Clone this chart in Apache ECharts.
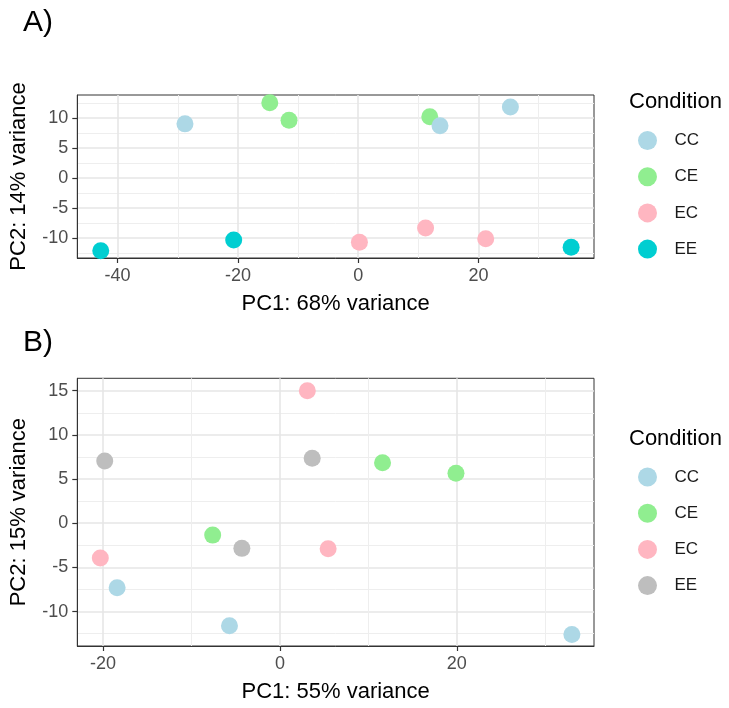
<!DOCTYPE html>
<html>
<head>
<meta charset="UTF-8">
<title>PCA</title>
<script src="https://cdn.jsdelivr.net/npm/echarts@6/dist/echarts.min.js"></script>
<style>
  body { margin: 0; background: #fff; }
  #chartA { width: 729px; height: 320px; }
  #chartB { width: 729px; height: 388px; }
</style>
</head>
<body>
<div id="chartA"></div>
<div id="chartB"></div>
<script>
// conditions, in legend order
const conditions = ['CC', 'CE', 'EC', 'EE'];

// panel A: [PC1, PC2] per sample
const a_CC = [[-28.8, 9.0], [13.6, 8.7], [25.3, 11.8]];
const a_CE = [[-14.7, 12.5], [-11.5, 9.6], [11.9, 10.2]];
const a_EC = [[0.2, -10.7], [11.2, -8.3], [21.2, -10.1]];
const a_EE = [[-42.8, -12.1], [-20.7, -10.3], [35.4, -11.5]];

// panel B
const b_CC = [[-18.4, -7.3], [-5.7, -11.6], [33.0, -12.6]];
const b_CE = [[-7.6, -1.35], [11.6, 6.85], [19.9, 5.65]];
const b_EC = [[3.1, 15.0], [-20.3, -3.95], [5.45, -2.9]];
const b_EE = [[-19.8, 7.05], [3.65, 7.35], [-4.3, -2.85]];

// ticks
const aXTicks = [-40, -20, 0, 20];
const aXMinor = [-30, -10, 10, 30];
const aYTicks = [-10, -5, 0, 5, 10];
const aYMinor = [-12.5, -7.5, -2.5, 2.5, 7.5, 12.5];
const bXTicks = [-20, 0, 20];
const bXMinor = [-10, 10, 30];
const bYTicks = [-10, -5, 0, 5, 10, 15];
const bYMinor = [-12.5, -7.5, -2.5, 2.5, 7.5, 12.5];

const colorsA = ['#ADD8E6', '#90EE90', '#FFB6C1', '#00CED1'];
const colorsB = ['#ADD8E6', '#90EE90', '#FFB6C1', '#BEBEBE'];

const FONT = 'Liberation Sans, Arial, sans-serif';

function axisPair(min, max, ticks, minor, name, gap) {
    const major = {
        type: 'value', min: min, max: max,
        axisLine: { show: true, onZero: false, lineStyle: { color: '#333', width: 1 } },
        axisTick: { show: true, customValues: ticks, length: 5, lineStyle: { color: '#333', width: 1.2 } },
        axisLabel: { customValues: ticks, color: '#4d4d4d', fontSize: 18, fontFamily: FONT, margin: 9 },
        splitLine: { show: true, lineStyle: { color: '#e6e6e6', width: 1.6 } },
        name: name, nameLocation: 'middle', nameGap: gap,
        nameTextStyle: { color: '#000', fontSize: 22, fontFamily: FONT }
    };
    const thin = {
        type: 'value', min: min, max: max,
        axisLine: { show: false, onZero: false },
        axisTick: { show: false, customValues: minor },
        axisLabel: { show: false, customValues: minor },
        splitLine: { show: true, lineStyle: { color: '#eeeeee', width: 1 } }
    };
    return [major, thin];
}

function drawPanel(id, label, sets, colors, x, y, xName, yName, layout) {
    const chart = echarts.init(document.getElementById(id));
    const series = conditions.map((c, i) => ({
        name: c,
        type: 'scatter',
        xAxisIndex: 0,
        yAxisIndex: 0,
        data: sets[i],
        symbolSize: 17,
        z: c === 'CC' ? 3 : 2,
        itemStyle: { color: colors[i], opacity: 1 },
        emphasis: { disabled: true }
    }));
    chart.setOption({
        animation: false,
        backgroundColor: '#fff',
        title: [
            { text: label, left: 18, top: 3, textStyle: { fontSize: 30, fontWeight: 'normal', color: '#000', fontFamily: FONT } },
            { text: 'Condition', left: 624, top: layout.condTop, textStyle: { fontSize: 22, fontWeight: 'normal', color: '#000', fontFamily: FONT } }
        ],
        legend: {
            data: conditions,
            orient: 'vertical',
            left: 633,
            top: layout.legendTop,
            icon: 'circle',
            itemWidth: 44,
            itemHeight: 19,
            itemGap: 17.2,
            selectedMode: false,
            textStyle: { fontSize: 17, color: '#1a1a1a', fontFamily: FONT }
        },
        grid: {
            left: 77.3, right: 135, top: layout.top, bottom: layout.bottom,
            show: true, borderColor: '#333', borderWidth: 1, backgroundColor: '#fff'
        },
        xAxis: axisPair(x.min, x.max, x.ticks, x.minor, xName, 35),
        yAxis: axisPair(y.min, y.max, y.ticks, y.minor, yName, 47),
        series: series
    });
}

drawPanel('chartA', 'A)', [a_CC, a_CE, a_EC, a_EE], colorsA,
    { min: -46.7, max: 39.2, ticks: aXTicks, minor: aXMinor },
    { min: -13.3, max: 13.8, ticks: aYTicks, minor: aYMinor },
    'PC1: 68% variance', 'PC2: 14% variance',
    { top: 95, bottom: 62, condTop: 86, legendTop: 126 });

drawPanel('chartB', 'B)', [b_CC, b_CE, b_EC, b_EE], colorsB,
    { min: -22.9, max: 35.5, ticks: bXTicks, minor: bXMinor },
    { min: -13.9, max: 16.4, ticks: bYTicks, minor: bYMinor },
    'PC1: 55% variance', 'PC2: 15% variance',
    { top: 58.3, bottom: 60.7, condTop: 103, legendTop: 142.5 });
</script>
</body>
</html>
